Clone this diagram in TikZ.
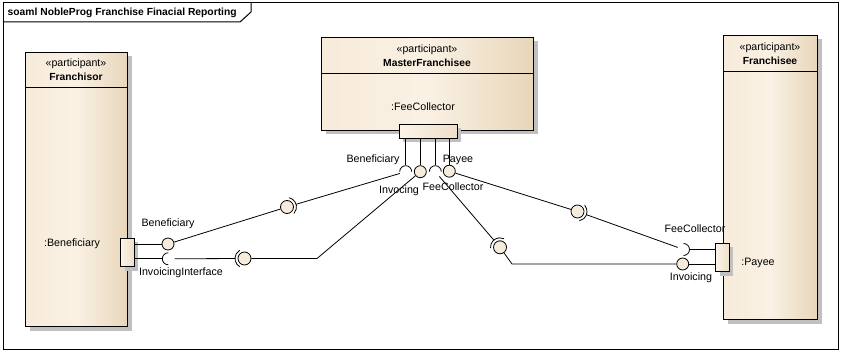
\documentclass[tikz,border=0pt]{standalone}
\usepackage{fontspec}
\setmainfont{Liberation Sans}
\usetikzlibrary{shadows}
\definecolor{boxL}{HTML}{F7EBDA}
\definecolor{boxM}{HTML}{FAF1E4}
\definecolor{boxR}{HTML}{E8D6BA}
\definecolor{portL}{HTML}{FBF4E9}
\definecolor{portR}{HTML}{EEDFC8}
\definecolor{shad}{HTML}{C0C0C0}
\definecolor{ballfill}{HTML}{F6ECDC}
\begin{document}
\begin{tikzpicture}[x=1pt,y=-1pt,
  every node/.style={font=\fontsize{10.7}{12}\selectfont, inner sep=0pt},
  shadowed/.style={drop shadow={shadow xshift=4pt, shadow yshift=-4pt, fill=shad, opacity=1}},
  classbox/.style={rectangle, draw=black, line width=1pt, left color=boxL, right color=boxR, middle color=boxM, shadowed, anchor=north west},
  portbox/.style={rectangle, draw=black, line width=1pt, left color=portL, right color=portR, shadowed},
  stereo/.style={font=\fontsize{10.6}{12}\selectfont},
  cname/.style={font=\bfseries\fontsize{10.3}{12}\selectfont},
  part/.style={font=\fontsize{10.7}{12}\selectfont},
  lbl/.style={font=\fontsize{10.7}{12}\selectfont},
  ball/.style={circle, draw=black, line width=0.8pt, fill=ballfill, minimum size=12pt},
  sock/.style={circle, minimum size=12pt},
  ring/.style={circle, minimum size=19pt},
  conn/.style={draw=black, line width=0.8pt},
  sockarc/.style={draw=black, line width=0.8pt}
]
\useasboundingbox (0,0) rectangle (842,352);
% frame
\draw[line width=1pt] (3,3) rectangle (838,349);
\draw[line width=1pt] (3,22) -- (240,22) -- (251,12) -- (251,3);
\node[anchor=west, cname] (title) at (7.5,13) {soaml NobleProg Franchise Finacial Reporting};

% Franchisor
\node[classbox, minimum width=102pt, minimum height=274pt] (fr) at (25,52) {};
\draw[line width=1pt] ([yshift=-36pt]fr.north west) -- ([yshift=-36pt]fr.north east);
\node[stereo] (frst) at (76,64) {«participant»};
\node[cname] (frnm) at (76,76.5) {Franchisor};
\node[part] (frpt) at (72,244) {:Beneficiary};

% MasterFranchisee
\node[classbox, minimum width=212pt, minimum height=93pt] (mf) at (321,37) {};
\draw[line width=1pt] ([yshift=-37pt]mf.north west) -- ([yshift=-37pt]mf.north east);
\node[stereo] (mfst) at (427,50) {«participant»};
\node[cname] (mfnm) at (427,63) {MasterFranchisee};
\node[part] (mfpt) at (423,107) {:FeeCollector};

% Franchisee
\node[classbox, minimum width=94pt, minimum height=284pt] (fe) at (723,35) {};
\draw[line width=1pt] ([yshift=-37pt]fe.north west) -- ([yshift=-37pt]fe.north east);
\node[stereo] (fest) at (770,48) {«participant»};
\node[cname] (fenm) at (770,61) {Franchisee};
\node[part] (fept) at (758,262.5) {:Payee};

% ports
\node[portbox, minimum width=13.6pt, minimum height=28.4pt] (frp) at (127.5,252.5) {};
\node[portbox, minimum width=58pt, minimum height=14pt] (mfp) at (428.3,131.3) {};
\node[portbox, minimum width=13.6pt, minimum height=28.7pt] (fep) at (722.5,257.6) {};

% Franchisor port symbols
\node[ball] (frB) at (168,244) {};
\node[sock] (frS) at (168.3,258.8) {};
\draw[conn] (frp.east |- frB) -- (frB.west);
\draw[conn] (frp.east |- frS) -- (frS.west);
\draw[sockarc] ([shift={(90:6)}]frS.center) arc[start angle=90, end angle=270, radius=6];

% MasterFranchisee port symbols
\node[sock] (mfBen) at (405.7,171.7) {};
\node[ball] (mfInv) at (420.3,171.7) {};
\node[sock] (mfFee) at (435.3,171.7) {};
\node[ball] (mfPay) at (449.3,171.2) {};
\draw[conn] (mfp.south -| mfBen) -- (mfBen.north);
\draw[conn] (mfp.south -| mfInv) -- (mfInv.north);
\draw[conn] (mfp.south -| mfFee) -- (mfFee.north);
\draw[conn] (mfp.south -| mfPay) -- (mfPay.north);
\draw[sockarc] ([shift={(180:6)}]mfBen.center) arc[start angle=180, end angle=360, radius=6];
\draw[sockarc] ([shift={(180:6)}]mfFee.center) arc[start angle=180, end angle=360, radius=6];

% Franchisee port symbols
\node[sock] (feFee) at (683.5,249.5) {};
\node[ball] (feInv) at (682.7,264) {};
\draw[conn] (fep.west |- feFee) -- (feFee.east);
\draw[conn] (fep.west |- feInv) -- (feInv.east);
\draw[sockarc] ([shift={(-90:6)}]feFee.center) arc[start angle=-90, end angle=90, radius=6];

% assemblies
\node[ball, minimum size=13pt] (a1) at (287,207) {};
\node[ring] (a1r) at (287,207) {};
\draw[sockarc] ([shift={(-77:9.5)}]a1.center) arc[start angle=-77, end angle=43, radius=9.5];
\node[ball, minimum size=13pt] (a2) at (244.5,258.5) {};
\node[ring] (a2r) at (244.5,258.5) {};
\draw[sockarc] ([shift={(120:9.5)}]a2.center) arc[start angle=120, end angle=240, radius=9.5];
\node[ball, minimum size=13pt] (a3) at (500,247.3) {};
\node[ring] (a3r) at (500,247.3) {};
\draw[sockarc] ([shift={(-185:9.5)}]a3.center) arc[start angle=-185, end angle=-65, radius=9.5];
\node[ball, minimum size=13pt] (a4) at (577.5,211.5) {};
\node[ring] (a4r) at (577.5,211.5) {};
\draw[sockarc] ([shift={(-41:9.5)}]a4.center) arc[start angle=-41, end angle=79, radius=9.5];

% connectors
\coordinate (c2) at (317,258.5);
\coordinate (c3) at (512,264);
\draw[conn] (frB) -- (a1);
\draw[conn] (a1r) -- (mfBen);
\draw[conn] (frS) -- (a2r);
\draw[conn] (a2) -- (c2) -- (mfInv);
\draw[conn] (mfFee) -- (a3r);
\draw[conn] (a3) -- (c3) -- (feInv);
\draw[conn] (mfPay) -- (a4);
\draw[conn] (a4r) -- (feFee);

% labels
\node[lbl] (lFrBen) at (168,224) {Beneficiary};
\node[lbl] (lFrInv) at (181,273) {InvoicingInterface};
\node[lbl] (lMfBen) at (373,160) {Beneficiary};
\node[lbl] (lMfPay) at (458,160) {Payee};
\node[lbl] (lMfInv) at (399,191) {Invocing};
\node[lbl] (lMfFee) at (453,187) {FeeCollector};
\node[lbl] (lFeFee) at (695,229) {FeeCollector};
\node[lbl] (lFeInv) at (691,278) {Invoicing};
\end{tikzpicture}
\end{document}
